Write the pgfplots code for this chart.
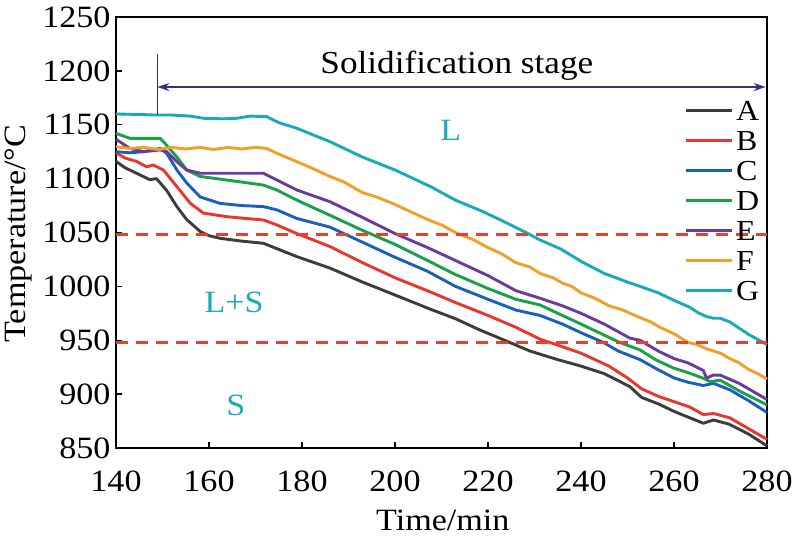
\documentclass[border=0pt]{standalone}
\usepackage{pgfplots}
\pgfplotsset{compat=1.18}
\usepackage{fontspec}
\setmainfont{Liberation Serif}[FakeStretch=1.1]
\usetikzlibrary{arrows.meta}
\definecolor{cA}{HTML}{3C3C3C}
\definecolor{cB}{HTML}{E8372C}
\definecolor{cC}{HTML}{1B5FBD}
\definecolor{cD}{HTML}{17A14A}
\definecolor{cE}{HTML}{6A3A9C}
\definecolor{cF}{HTML}{F0A028}
\definecolor{cG}{HTML}{19AAB9}
\definecolor{cArr}{HTML}{3A2A8A}
\definecolor{cDash}{HTML}{E8402F}
\definecolor{cT}{HTML}{1EA8B8}
\newcommand{\bigf}{\fontsize{31}{36}\selectfont}
\begin{document}
\begin{tikzpicture}
\begin{axis}[
  at={(116pt,92pt)}, anchor=south west,
  scale only axis, width=651pt, height=431pt,
  xmin=140, xmax=280, ymin=850, ymax=1250,
  xtick={140,160,...,280}, ytick={850,900,...,1250},
  tick align=inside, xtick pos=bottom, ytick pos=left,
  major tick length=6pt,
  axis line style={line width=1.3pt},
  every tick/.style={line width=1.3pt, black},
  /pgf/number format/assume math mode=true,
  /pgf/number format/1000 sep={},
  tick label style={font=\bigf},
  xticklabel style={yshift=-19pt},
  yticklabel style={xshift=-2pt},
  xlabel={Time/min}, ylabel={Temperature/°C},
  label style={font=\bigf},
  xlabel style={at={(axis description cs:0.502,-0.167)}, anchor=center},
  ylabel style={at={(axis description cs:-0.150,0.497)}, anchor=center},
  clip=false,
  legend style={at={(axis description cs:0.8725,0.806)}, anchor=north west,
    draw=none, fill=none, font=\fontsize{29}{34}\selectfont,
    row sep=10pt, column sep=3pt, inner sep=0pt,
    nodes={inner sep=0pt, text height=20pt, text depth=0pt}},
  legend cell align=left,
  legend image code/.code={\draw[#1] (0pt,0pt) -- (46pt,0pt);},
  every axis plot/.append style={line width=2.9pt, line join=round},
]
\addplot[cA] coordinates {(140,1116) (142,1110) (144.4,1105) (147.3,1099) (148.7,1100) (150.9,1089) (153.1,1074) (155.2,1062) (158.1,1051) (160,1047) (162.4,1044.6) (167,1042) (171.7,1040) (174.6,1035) (178.9,1027.6) (186,1017) (193,1004) (200,992) (207.5,979) (213,970) (218,960) (223,951) (229,940) (235,932) (240,926) (245,919) (250.5,907) (253,897) (256.6,891) (260,884) (263.4,878) (266.3,873) (268.5,876) (271.9,872) (276,863) (280,852)};
\addlegendentry{A}
\addplot[cB] coordinates {(140,1124) (142,1119) (144.4,1116) (146.6,1111) (148,1112.6) (150.2,1108) (153.1,1092.5) (156,1077) (158.8,1068) (163.8,1064.7) (168,1063) (171.7,1061.6) (174.6,1057) (178.9,1049) (186,1037) (193,1022) (200,1008) (207.5,995) (213,985) (220,973) (226,962) (231.2,951) (236,944) (240,938) (246,926) (250,915) (253,905) (256.6,898) (260,893) (263.4,888) (266.3,881) (268.5,882) (272,878) (276,868) (280,858)};
\addlegendentry{B}
\addplot[cC] coordinates {(140,1125) (143,1124) (145.9,1125) (149.5,1128) (150.9,1123.5) (153.1,1108) (155.2,1096) (158.1,1083) (162.4,1077) (167,1075) (171.7,1074) (174.6,1071) (178.9,1063) (186,1055) (193,1041) (200,1027) (207,1014) (213,1000) (220,988) (226,978) (231.2,973) (236,965) (240,957) (244.8,948) (248,940) (252.7,932) (256,924) (260,915) (263,911) (266.3,908) (268.5,910) (272,904) (276,894) (280,883)};
\addlegendentry{C}
\addplot[cD] coordinates {(140,1142) (143,1137.4) (149.5,1137.4) (150.5,1132.8) (153.1,1120) (155.2,1108) (158.1,1102) (163.8,1098.7) (171.7,1094) (174.6,1089.4) (178.9,1080) (186,1066) (193,1052) (200,1039) (207,1024) (213,1011) (220,998) (226,988) (231.2,982.7) (236,973) (240,965) (248.3,948) (252.7,941) (256,932) (260,924) (263,920) (266.3,914.7) (267.8,911.5) (269.9,913) (274,903) (280,890)};
\addlegendentry{D}
\addplot[cE] coordinates {(140,1136.5) (143,1128) (145.9,1125) (149.5,1126.6) (150.9,1125) (153.1,1115.7) (155.2,1108) (158.1,1105) (165,1105) (171.7,1105) (174.6,1098.7) (178.9,1089.4) (186,1078.6) (193,1064) (200,1049) (207,1036) (213,1024) (220,1010) (226,996) (231.2,989) (236,982) (240,975) (245,965) (250.5,952) (252.7,950) (256.6,940) (260,933) (263,929) (266.3,922) (267,915) (268.5,917.7) (269.9,917.7) (274,910) (280,895)};
\addlegendentry{E}
\addplot[cF] coordinates {(140,1129.5) (143,1128) (146,1129) (149,1127) (152,1129) (155,1127.5) (158,1129) (161,1127) (164,1129) (167,1127.5) (170,1129) (172.4,1128) (174.6,1123.5) (178.9,1115.7) (182,1110) (186,1102) (189,1097) (193,1087) (196,1083) (200,1076) (203,1070) (207,1062) (210,1057) (213,1050) (217,1043) (220,1036) (223,1030) (226,1022) (229,1018) (231.2,1012) (234,1008) (236,1003) (238,1000) (240,994) (243,989) (246,982) (249,978) (252.7,971) (255,967) (257,962) (260,956) (263,948) (265,946) (267,942) (270,938) (272,933) (274,929) (276,923) (278,919) (280,914)};
\addlegendentry{F}
\addplot[cG] coordinates {(140,1160) (145,1159.5) (148.7,1159) (152,1159) (156,1158) (158.8,1156) (163,1155.5) (166,1156) (168.8,1158) (172.4,1157.5) (175,1152) (178.9,1146.7) (186,1134.3) (193,1120) (200,1108) (207.7,1092.5) (213,1080) (218.6,1070) (223,1061) (228.4,1049.5) (231.2,1043) (235.5,1035) (240.3,1022.5) (245,1012) (250,1004) (252.7,1000) (256.6,994) (260,987) (263.2,981) (265.4,975) (267,972) (268.5,970.4) (269.9,970.4) (272,967) (276.2,955) (280,946)};
\addlegendentry{G}
\addplot[cDash, line width=2.6pt, dash pattern=on 12pt off 8pt, forget plot] coordinates {(140,1048) (280,1048)};
\addplot[cDash, line width=2.6pt, dash pattern=on 12pt off 8pt, forget plot] coordinates {(140,948) (280,948)};
\draw[cArr, line width=1.5pt] (axis cs:148.9,1216) -- (axis cs:148.9,1159);
\draw[cArr, line width=1.5pt, {Stealth[length=12pt,width=8pt]}-{Stealth[length=12pt,width=8pt]}] (axis cs:148.9,1185) -- (axis cs:279.7,1185);
\node[font=\fontsize{32}{36}\selectfont] at (axis cs:213.3,1205) {Solidification stage};
\node[font=\bigf, text=cT] at (axis cs:212,1145) {L};
\node[font=\bigf, text=cT] at (axis cs:165.4,985) {L+S};
\node[font=\bigf, text=cT] at (axis cs:165.8,890) {S};
\end{axis}
\pgfresetboundingbox
\path (0,0) rectangle (794pt,540pt);
\end{tikzpicture}
\end{document}
